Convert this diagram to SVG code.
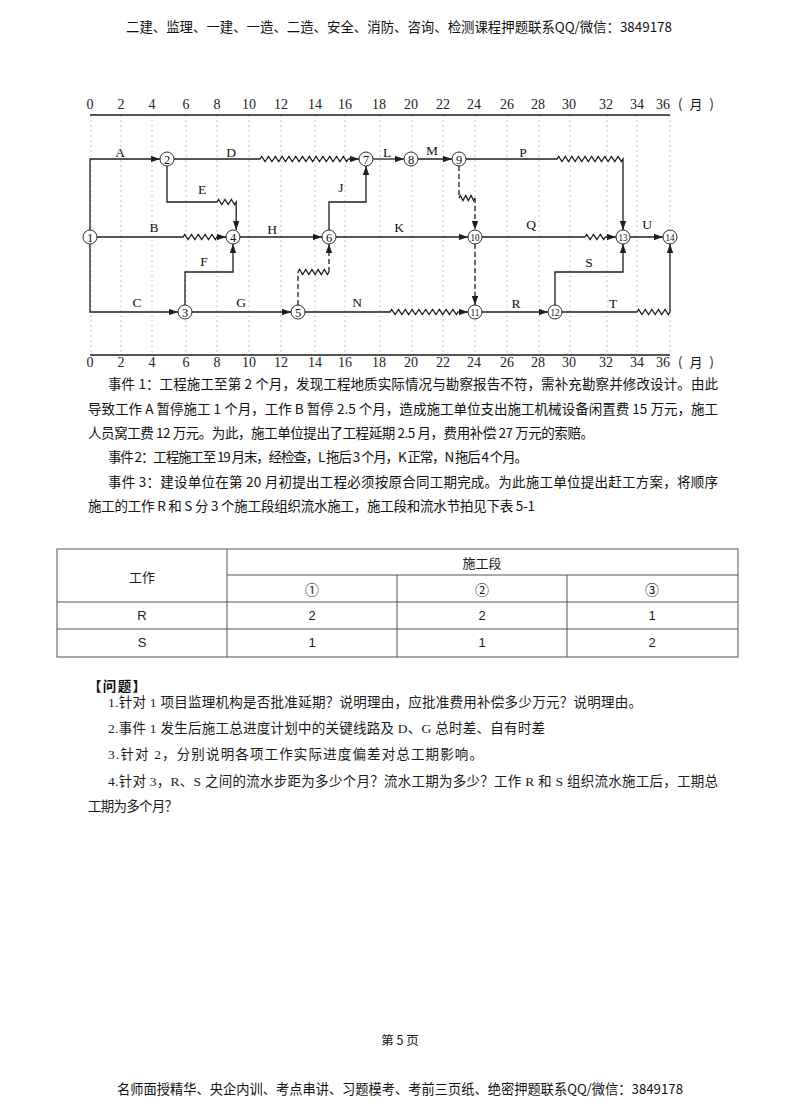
<svg xmlns="http://www.w3.org/2000/svg" width="800" height="1113" viewBox="0 0 800 1113">
<defs>
<marker id="arr" viewBox="0 0 10 7" refX="10" refY="3.5" markerWidth="9" markerHeight="6.5" markerUnits="userSpaceOnUse" orient="auto">
<path d="M0,0 L10,3.5 L0,7 z" fill="#1e1e1e"/>
</marker>
<style>
.bg{fill:#ffffff}
.grid{stroke:#b8b8b8;stroke-width:0.8;stroke-dasharray:2,3;fill:none}
.axis{stroke:#1e1e1e;stroke-width:1.5;fill:none}
.tick{font-family:"Liberation Serif",serif;font-size:14px;fill:#222;text-anchor:middle}
.edge{stroke:#1e1e1e;stroke-width:1.3;fill:none;stroke-linejoin:miter}
.dash{stroke:#1e1e1e;stroke-width:1.3;fill:none;stroke-dasharray:5,3}
.node circle{fill:#fff;stroke:#2a2a2a;stroke-width:1}
.node text{font-family:"Liberation Serif",serif;font-size:12.5px;fill:#111;text-anchor:middle}
.node text.two{font-size:10px}
.lbl{font-family:"Liberation Serif",serif;font-size:13.5px;fill:#111;text-anchor:middle}
.cn{font-family:"Noto Sans CJK SC","Liberation Sans",sans-serif;font-size:13.5px;fill:#111}
.q{font-family:"Liberation Serif","Noto Sans CJK SC",serif;font-size:13.5px;fill:#1a1a1a}
.tb{stroke:#555;stroke-width:1;fill:none}
.tt{font-family:"Liberation Sans","Noto Sans CJK SC",sans-serif;font-size:13px;fill:#1a1a1a;text-anchor:middle}
.tc{font-family:"Noto Sans CJK SC","DejaVu Sans",sans-serif;font-size:14px;fill:#1a1a1a;text-anchor:middle}
</style>
</defs>
<rect class="bg" x="0" y="0" width="800" height="1113"/>

<text class="cn" x="126" y="32" textLength="546" lengthAdjust="spacingAndGlyphs">二建、监理、一建、一造、二造、安全、消防、咨询、检测课程押题联系QQ/微信：3849178</text>

<g id="grid">
<path class="grid" d="M91,115V355M121,115V355M152,115V355M186,115V355M217,115V355M249,115V355M281,115V355M315,115V355M345,115V355M380,115V355M412,115V355M443,115V355M475,115V355M507,115V355M539,115V355M570,115V355M607,115V355M637,115V355M670,115V355"/>
<path class="axis" d="M90,115H670M90,355H670"/>
</g>
<g id="axis-top">
<text class="tick" x="90" y="109">0</text><text class="tick" x="121" y="109">2</text><text class="tick" x="152" y="109">4</text><text class="tick" x="186" y="109">6</text><text class="tick" x="217" y="109">8</text><text class="tick" x="249" y="109">10</text><text class="tick" x="281" y="109">12</text><text class="tick" x="315" y="109">14</text><text class="tick" x="345" y="109">16</text><text class="tick" x="379" y="109">18</text><text class="tick" x="411" y="109">20</text><text class="tick" x="443" y="109">22</text><text class="tick" x="474" y="109">24</text><text class="tick" x="507" y="109">26</text><text class="tick" x="538" y="109">28</text><text class="tick" x="569" y="109">30</text><text class="tick" x="606" y="109">32</text><text class="tick" x="637" y="109">34</text><text class="tick" x="663" y="109">36</text>
<text class="cn" x="678" y="109" textLength="36" lengthAdjust="spacing" style="font-size:13px">(月)</text>
</g>
<g id="axis-bottom">
<text class="tick" x="90" y="367">0</text><text class="tick" x="121" y="367">2</text><text class="tick" x="152" y="367">4</text><text class="tick" x="186" y="367">6</text><text class="tick" x="217" y="367">8</text><text class="tick" x="249" y="367">10</text><text class="tick" x="281" y="367">12</text><text class="tick" x="315" y="367">14</text><text class="tick" x="345" y="367">16</text><text class="tick" x="379" y="367">18</text><text class="tick" x="411" y="367">20</text><text class="tick" x="443" y="367">22</text><text class="tick" x="474" y="367">24</text><text class="tick" x="507" y="367">26</text><text class="tick" x="538" y="367">28</text><text class="tick" x="569" y="367">30</text><text class="tick" x="606" y="367">32</text><text class="tick" x="637" y="367">34</text><text class="tick" x="663" y="367">36</text>
<text class="cn" x="678" y="367" textLength="36" lengthAdjust="spacing" style="font-size:13px">(月)</text>
</g>

<g id="connectors">
<path class="edge" marker-end="url(#arr)" d="M90,230V159H160"/>
<path class="edge" marker-end="url(#arr)" d="M90,244V312H178"/>
<path class="edge" marker-end="url(#arr)" d="M97,237H183l1.7,-2.5l3.4,5l1.7,-2.5l1.7,-2.5l3.4,5l1.7,-2.5l1.7,-2.5l3.4,5l1.7,-2.5l1.7,-2.5l3.4,5l1.7,-2.5l1.7,-2.5l3.4,5l1.7,-2.5H226"/>
<path class="edge" marker-end="url(#arr)" d="M174,159H260l1.7,-2.5l3.4,5l1.7,-2.5l1.7,-2.5l3.4,5l1.7,-2.5l1.7,-2.5l3.4,5l1.7,-2.5l1.7,-2.5l3.4,5l1.7,-2.5l1.7,-2.5l3.4,5l1.7,-2.5l1.7,-2.5l3.4,5l1.7,-2.5l1.7,-2.5l3.4,5l1.7,-2.5l1.7,-2.5l3.4,5l1.7,-2.5l1.7,-2.5l3.4,5l1.7,-2.5l1.7,-2.5l3.4,5l1.7,-2.5l1.7,-2.5l3.4,5l1.7,-2.5l1.7,-2.5l3.4,5l1.7,-2.5l1.7,-2.5l3.4,5l1.7,-2.5H359"/>
<path class="edge" marker-end="url(#arr)" d="M167,166V202H217l1.6,-2.5l3.2,5l1.6,-2.5l1.6,-2.5l3.2,5l1.6,-2.5l1.6,-2.5l3.2,5l1.6,-2.5V230"/>
<path class="edge" marker-end="url(#arr)" d="M185,305V272H233V244"/>
<path class="edge" marker-end="url(#arr)" d="M192,312H291"/>
<path class="edge" marker-end="url(#arr)" d="M240,237H322"/>
<path class="dash" d="M298,305V272"/>
<path class="edge" d="M298,272l1.55,-2.5l3.1,5l1.55,-2.5l1.55,-2.5l3.1,5l1.55,-2.5l1.55,-2.5l3.1,5l1.55,-2.5l1.55,-2.5l3.1,5l1.55,-2.5l1.55,-2.5l3.1,5l1.55,-2.5"/>
<path class="dash" marker-end="url(#arr)" d="M329,272V244"/>
<path class="edge" marker-end="url(#arr)" d="M329,230V202H366V166"/>
<path class="edge" marker-end="url(#arr)" d="M336,237H468"/>
<path class="edge" marker-end="url(#arr)" d="M305,312H390l1.7,-2.5l3.4,5l1.7,-2.5l1.7,-2.5l3.4,5l1.7,-2.5l1.7,-2.5l3.4,5l1.7,-2.5l1.7,-2.5l3.4,5l1.7,-2.5l1.7,-2.5l3.4,5l1.7,-2.5l1.7,-2.5l3.4,5l1.7,-2.5l1.7,-2.5l3.4,5l1.7,-2.5l1.7,-2.5l3.4,5l1.7,-2.5l1.7,-2.5l3.4,5l1.7,-2.5l1.7,-2.5l3.4,5l1.7,-2.5H468"/>
<path class="edge" marker-end="url(#arr)" d="M373,159H404"/>
<path class="edge" marker-end="url(#arr)" d="M418,159H452"/>
<path class="dash" d="M459,166V198"/>
<path class="edge" d="M459,198l1.33,-2.5l2.67,5l1.33,-2.5l1.33,-2.5l2.67,5l1.33,-2.5l1.33,-2.5l2.67,5l1.33,-2.5"/>
<path class="dash" marker-end="url(#arr)" d="M475,198V230"/>
<path class="dash" marker-end="url(#arr)" d="M475,244V305"/>
<path class="edge" marker-end="url(#arr)" d="M466,159H557l1.65,-2.5l3.3,5l1.65,-2.5l1.65,-2.5l3.3,5l1.65,-2.5l1.65,-2.5l3.3,5l1.65,-2.5l1.65,-2.5l3.3,5l1.65,-2.5l1.65,-2.5l3.3,5l1.65,-2.5l1.65,-2.5l3.3,5l1.65,-2.5l1.65,-2.5l3.3,5l1.65,-2.5l1.65,-2.5l3.3,5l1.65,-2.5l1.65,-2.5l3.3,5l1.65,-2.5l1.65,-2.5l3.3,5l1.65,-2.5V230"/>
<path class="edge" marker-end="url(#arr)" d="M482,237H585l1.7,-2.5l3.4,5l1.7,-2.5l1.7,-2.5l3.4,5l1.7,-2.5l1.7,-2.5l3.4,5l1.7,-2.5H616"/>
<path class="edge" marker-end="url(#arr)" d="M482,312H548"/>
<path class="edge" marker-end="url(#arr)" d="M555,305V272H623V244"/>
<path class="edge" marker-end="url(#arr)" d="M562,312H637l1.65,-2.5l3.3,5l1.65,-2.5l1.65,-2.5l3.3,5l1.65,-2.5l1.65,-2.5l3.3,5l1.65,-2.5l1.65,-2.5l3.3,5l1.65,-2.5l1.65,-2.5l3.3,5l1.65,-2.5V244"/>
<path class="edge" marker-end="url(#arr)" d="M630,237H663"/>
</g>

<g id="edge-labels">
<text class="lbl" x="120" y="157">A</text>
<text class="lbl" x="231" y="157">D</text>
<text class="lbl" x="387" y="157">L</text>
<text class="lbl" x="432" y="155">M</text>
<text class="lbl" x="523" y="157">P</text>
<text class="lbl" x="202" y="194">E</text>
<text class="lbl" x="341" y="192">J</text>
<text class="lbl" x="154" y="232">B</text>
<text class="lbl" x="272" y="234">H</text>
<text class="lbl" x="399" y="232">K</text>
<text class="lbl" x="531" y="229">Q</text>
<text class="lbl" x="647" y="229">U</text>
<text class="lbl" x="204" y="266">F</text>
<text class="lbl" x="589" y="267">S</text>
<text class="lbl" x="137" y="307">C</text>
<text class="lbl" x="241" y="307">G</text>
<text class="lbl" x="357" y="307">N</text>
<text class="lbl" x="516" y="308">R</text>
<text class="lbl" x="613" y="308">T</text>
</g>

<g id="n1" class="node"><circle cx="90" cy="237" r="7"/><text x="90" y="241.5">1</text></g>
<g id="n2" class="node"><circle cx="167" cy="159" r="7"/><text x="167" y="163.5">2</text></g>
<g id="n3" class="node"><circle cx="185" cy="312" r="7"/><text x="185" y="316.5">3</text></g>
<g id="n4" class="node"><circle cx="233" cy="237" r="7"/><text x="233" y="241.5">4</text></g>
<g id="n5" class="node"><circle cx="298" cy="312" r="7"/><text x="298" y="316.5">5</text></g>
<g id="n6" class="node"><circle cx="329" cy="237" r="7"/><text x="329" y="241.5">6</text></g>
<g id="n7" class="node"><circle cx="366" cy="159" r="7"/><text x="366" y="163.5">7</text></g>
<g id="n8" class="node"><circle cx="411" cy="159" r="7"/><text x="411" y="163.5">8</text></g>
<g id="n9" class="node"><circle cx="459" cy="159" r="7"/><text x="459" y="163.5">9</text></g>
<g id="n10" class="node"><circle cx="475" cy="237" r="7"/><text class="two" x="475" y="240.5" textLength="9" lengthAdjust="spacingAndGlyphs">10</text></g>
<g id="n11" class="node"><circle cx="475" cy="312" r="7"/><text class="two" x="475" y="315.5" textLength="9" lengthAdjust="spacingAndGlyphs">11</text></g>
<g id="n12" class="node"><circle cx="555" cy="312" r="7"/><text class="two" x="555" y="315.5" textLength="9" lengthAdjust="spacingAndGlyphs">12</text></g>
<g id="n13" class="node"><circle cx="623" cy="237" r="7"/><text class="two" x="623" y="240.5" textLength="9" lengthAdjust="spacingAndGlyphs">13</text></g>
<g id="n14" class="node"><circle cx="670" cy="237" r="7"/><text class="two" x="670" y="240.5" textLength="9" lengthAdjust="spacingAndGlyphs">14</text></g>

<g id="events">
<text class="cn" x="108" y="389" textLength="610" lengthAdjust="spacing">事件 1：工程施工至第 2 个月，发现工程地质实际情况与勘察报告不符，需补充勘察并修改设计。由此</text>
<text class="cn" x="88" y="414" textLength="630" lengthAdjust="spacing">导致工作 A 暂停施工 1 个月，工作 B 暂停 2.5 个月，造成施工单位支出施工机械设备闲置费 15 万元，施工</text>
<text class="cn" x="88" y="438" textLength="506" lengthAdjust="spacing">人员窝工费 12 万元。为此，施工单位提出了工程延期 2.5 月，费用补偿 27 万元的索赔。</text>
<text class="cn" x="108" y="462" textLength="420" lengthAdjust="spacing">事件 2：工程施工至 19 月末，经检查，L 拖后 3 个月，K 正常，N 拖后 4 个月。</text>
<text class="cn" x="108" y="487" textLength="610" lengthAdjust="spacing">事件 3：建设单位在第 20 月初提出工程必须按原合同工期完成。为此施工单位提出赶工方案，将顺序</text>
<text class="cn" x="88" y="511" textLength="447" lengthAdjust="spacing">施工的工作 R 和 S 分 3 个施工段组织流水施工，施工段和流水节拍见下表 5-1</text>
</g>

<g id="table">
<rect class="tb" x="57" y="549" width="681" height="108"/>
<path class="tb" d="M227,549V657M397,575V657M567,575V657M227,575H738M57,602H738M57,629H738"/>
<text class="tt" x="142" y="582">工作</text>
<text class="tt" x="482" y="568">施工段</text>
<text class="tc" x="312" y="595">①</text>
<text class="tc" x="482" y="595">②</text>
<text class="tc" x="652" y="595">③</text>
<text class="tt" x="142" y="620">R</text>
<text class="tt" x="312" y="620">2</text>
<text class="tt" x="482" y="620">2</text>
<text class="tt" x="652" y="620">1</text>
<text class="tt" x="142" y="647">S</text>
<text class="tt" x="312" y="647">1</text>
<text class="tt" x="482" y="647">1</text>
<text class="tt" x="652" y="647">2</text>
</g>

<g id="questions">
<text class="cn" x="88" y="691" textLength="58" lengthAdjust="spacing" style="font-weight:bold">【问题】</text>
<text class="q" x="108" y="707" textLength="534" lengthAdjust="spacing">1.针对 1 项目监理机构是否批准延期？说明理由，应批准费用补偿多少万元？说明理由。</text>
<text class="q" x="108" y="733" textLength="437" lengthAdjust="spacing">2.事件 1 发生后施工总进度计划中的关键线路及 D、G 总时差、自有时差</text>
<text class="q" x="108" y="759" textLength="375" lengthAdjust="spacing">3.针对 2，分别说明各项工作实际进度偏差对总工期影响。</text>
<text class="q" x="108" y="786" textLength="610" lengthAdjust="spacing">4.针对 3，R、S 之间的流水步距为多少个月？流水工期为多少？工作 R 和 S 组织流水施工后，工期总</text>
<text class="q" x="88" y="811" textLength="90" lengthAdjust="spacing">工期为多个月？</text>
</g>

<text class="cn" x="400" y="1045" text-anchor="middle" style="font-size:12.5px">第 5 页</text>
<text class="cn" x="117" y="1094" textLength="566" lengthAdjust="spacingAndGlyphs">名师面授精华、央企内训、考点串讲、习题模考、考前三页纸、绝密押题联系QQ/微信：3849178</text>
</svg>
